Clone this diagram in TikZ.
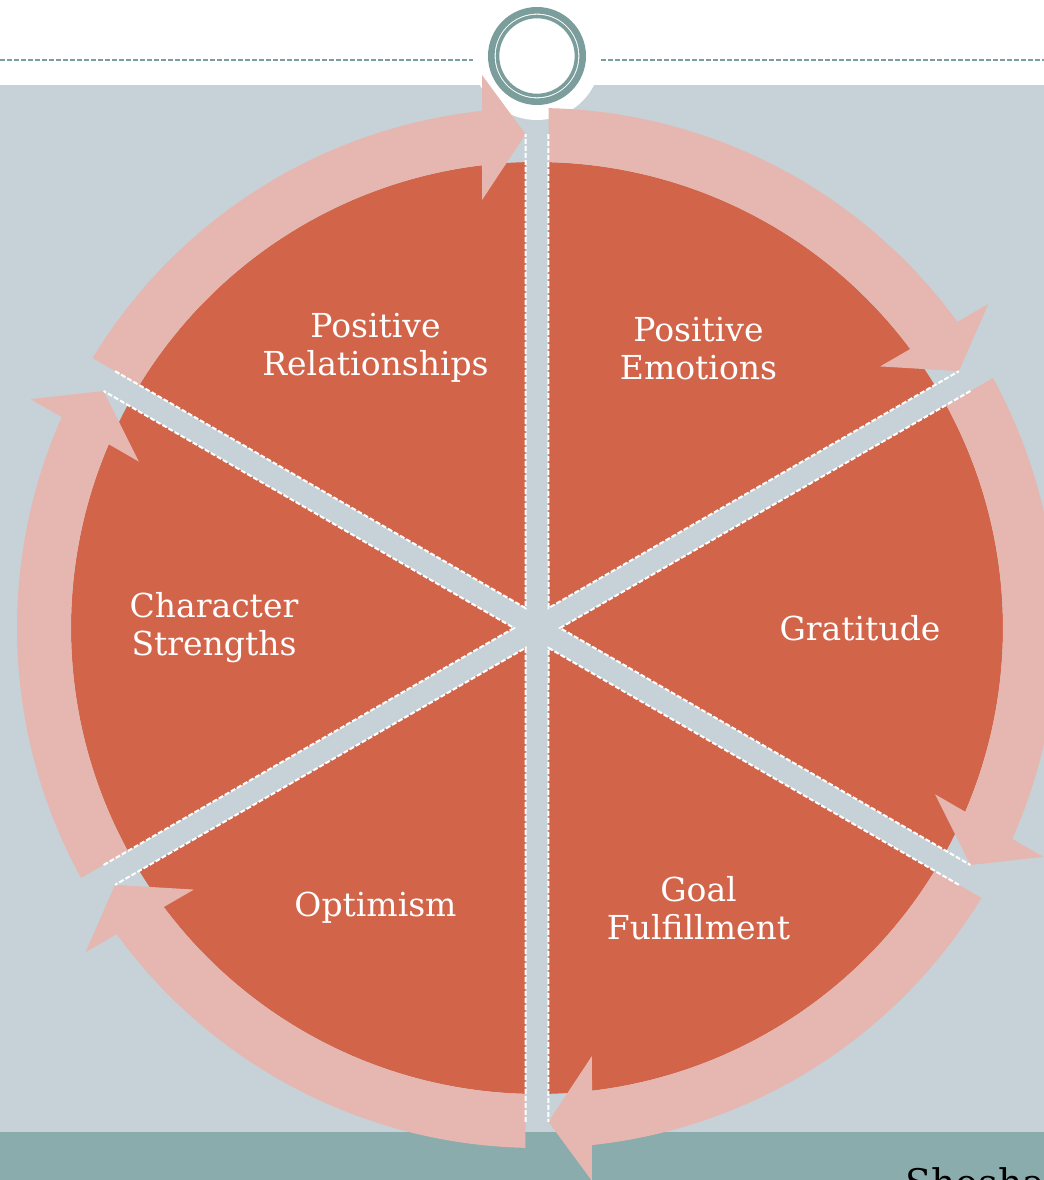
\documentclass[tikz,border=0pt]{standalone}
\usepackage{fontspec}
\setmainfont{DejaVu Serif}
\usepackage{tikz}
\usetikzlibrary{positioning}
\definecolor{backColor}{HTML}{C6D2D8}
\definecolor{wedgeColor}{HTML}{D2644A}
\definecolor{arrowColor}{HTML}{E5B7B0}
\definecolor{bandColor}{HTML}{8AACAD}
\definecolor{ringColor}{HTML}{7B9E9C}
\tikzstyle{wheel} = [x = 0.5pt, y = 0.5pt]
\tikzstyle{wedgeStyle} = [fill=wedgeColor]
\tikzstyle{arrowStyle} = [fill=arrowColor]
\tikzstyle{edgeLine} = [color=white, line width=1pt, dash pattern=on 2.5pt off 1pt]
\tikzstyle{wedgeText} = [text=white, font=\fontsize{16.5}{19}\selectfont, align=center]
\tikzstyle{headerLine} = [color=ringColor, line width=0.7pt, dash pattern=on 2.5pt off 1pt]
\tikzstyle{ringLine} = [color=ringColor]
\newcommand{\cycleWedge}[1]{\fill [wedgeStyle, shift={(537,552)}, rotate=#1] (120:23) -- (148.59:466) arc [start angle=148.59, end angle=91.41, radius=466] -- cycle;}
\newcommand{\cycleEdges}[1]{\draw [edgeLine, shift={(537,552)}, rotate=#1] (148.67:494) -- (120:23) -- (91.33:494);}
\newcommand{\cycleArrow}[1]{\fill [arrowStyle, shift={(537,552)}, rotate=#1] (148.73:520) arc [start angle=148.73, end angle=96.07, radius=520] -- (95.68:555.7) -- (91.33:494) -- (97.32:431.5) -- (96.78:466) arc [start angle=96.78, end angle=148.59, radius=466] -- cycle;}

\begin{document}
\begin{tikzpicture}[wheel]
          \useasboundingbox (0,0) rectangle (1044,1180);
          \fill [backColor] (0,48) rectangle (1044,1095);
          \fill [bandColor] (0,0) rectangle (1044,48);
          \fill [white] (537,1124) circle [radius=64];

          \foreach \turn in {0,-60,...,-300} {
            \cycleWedge{\turn}
          }
          \foreach \turn in {0,-60,...,-300} {
            \cycleArrow{\turn}
          }
          \foreach \turn in {0,-60,...,-300} {
            \cycleEdges{\turn}
          }

          \draw [ringLine, line width=3.3pt] (537,1124) circle [radius=45.7];
          \draw [ringLine, line width=1.8pt] (537,1124) circle [radius=39.5];
          \draw [headerLine] (0,1120) -- (473,1120);
          \draw [headerLine] (601,1120) -- (1044,1120);

          \coordinate (hub) at (537,552);
          \node [wedgeText] (relNode) at ([shift={(120:323)}] hub) {Positive\\Relationships};
          \node [wedgeText] (emoNode) at ([shift={(60:323)}] hub) {Positive\\Emotions};
          \node [wedgeText] (gratNode) at ([shift={(0:323)}] hub) {Gratitude};
          \node [wedgeText] (goalNode) at ([shift={(-60:323)}] hub) {Goal\\Fulfillment};
          \node [wedgeText] (optNode) at ([shift={(-120:323)}] hub) {Optimism};
          \node [wedgeText] (charNode) at ([shift={(180:323)}] hub) {Character\\Strengths};
          \node [anchor=base west, inner sep=0pt, font=\fontsize{19}{23}\selectfont] (citeNode) at (905,-17) {Shosha};
        \end{tikzpicture}
\end{document}
